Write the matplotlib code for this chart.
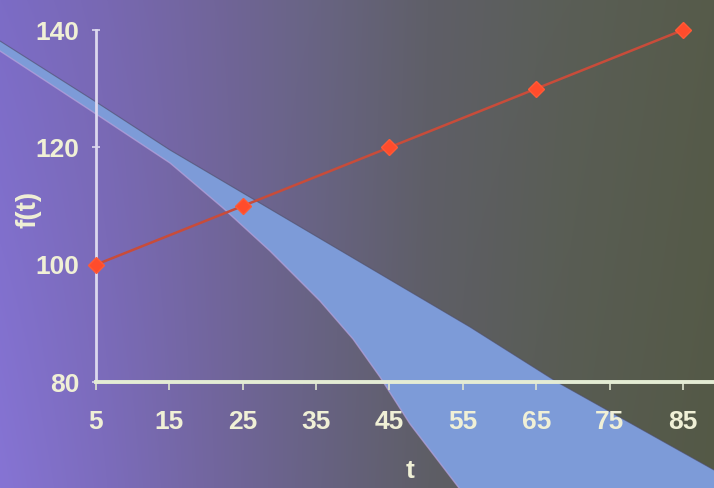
import numpy as np
import matplotlib
matplotlib.use("Agg")
from matplotlib import pyplot as plt
from matplotlib.colors import to_rgb
from matplotlib.patches import Polygon

# series
t_vals = [5, 25, 45, 65, 85]
f_vals = [100, 110, 120, 130, 140]

# axis ticks
x_ticks = [5, 15, 25, 35, 45, 55, 65, 75, 85]
y_ticks = [80, 100, 120, 140]

W, H = 714, 488
FONT = ["Liberation Sans Narrow", "Liberation Sans", "DejaVu Sans"]
TEXT_COL = "#f0f0d6"

fig = plt.figure(figsize=(W / 100, H / 100), dpi=100)

# background: slide gradient, purple on the left to olive on the right
bg = fig.add_axes([0, 0, 1, 1], zorder=0)
bg.axis("off")
bg.set_xlim(0, W)
bg.set_ylim(H, 0)

stops_x = [0.0, 0.15, 0.3, 0.45, 0.6, 0.8, 1.0]
top_cols = ["#7c6cc6", "#7868b2", "#71659a", "#686482", "#5f5f68", "#5a5e56", "#565b4a"]
bot_cols = ["#8674d4", "#7c6cbc", "#72669e", "#676282", "#5e5e66", "#585c52", "#545946"]

xs = np.linspace(0, 1, W)
def row(cols):
    rgb = np.array([to_rgb(c) for c in cols])
    return np.stack([np.interp(xs, stops_x, rgb[:, k]) for k in range(3)], axis=-1)

top_row = row(top_cols)
bot_row = row(bot_cols)
wy = np.linspace(0, 1, H)[:, None, None]
img = top_row[None, :, :] * (1 - wy) + bot_row[None, :, :] * wy
bg.imshow(img, extent=(0, W, H, 0), aspect="auto", interpolation="bilinear")

# light beam across the slide (pixel outline, top edge then bottom edge)
upper = [(0, 41), (93, 100), (170, 150), (470, 327), (557, 382), (714, 470)]
lower = [(714, 488), (459, 488), (410, 424), (380, 377), (353, 339),
         (320, 301), (270, 251), (223, 208), (170, 163), (93, 112), (0, 51)]
beam = Polygon(upper + lower, closed=True, facecolor="#7d9bd8",
               edgecolor="none")
bg.add_patch(beam)
bg.plot([p[0] for p in lower[1:]], [p[1] for p in lower[1:]],
        color="#b9a2dc", lw=1.0, alpha=0.7)
bg.plot([p[0] for p in upper], [p[1] for p in upper],
        color="#4c4c66", lw=0.8, alpha=0.6)

# chart
ax = fig.add_axes([96 / W, 1 - 382 / H, 1 - 96 / W, (382 - 30) / H], zorder=1)
ax.patch.set_alpha(0)
ax.set_xlim(5, 89.23)
ax.set_ylim(80, 140)

for side in ["top", "right"]:
    ax.spines[side].set_visible(False)
ax.spines["left"].set_color("#dcd8ee")
ax.spines["left"].set_linewidth(2.0)
ax.spines["bottom"].set_color("#e4ecd4")
ax.spines["bottom"].set_linewidth(2.8)

ax.set_xticks(x_ticks)
ax.set_yticks(y_ticks)
ax.tick_params(axis="x", direction="out", length=6, width=1.2,
               color="#dfe5cf", pad=14, labelcolor=TEXT_COL)
ax.tick_params(axis="y", direction="inout", length=6, width=1.2,
               color="#dcd8ee", pad=9, labelcolor=TEXT_COL)
for lab in ax.get_xticklabels() + ax.get_yticklabels():
    lab.set_family(FONT)
    lab.set_fontsize(19)
    lab.set_fontweight("bold")

ax.plot(t_vals, f_vals, color="#c84c3a", lw=1.8, marker="D", markersize=8,
        markerfacecolor="#ff4c2c", markeredgecolor="#ff5a36", clip_on=False,
        zorder=5)

fig.text(410 / W, 1 - 471 / H, "t", color=TEXT_COL, fontsize=19,
         fontweight="bold", family=FONT, ha="center", va="center")
fig.text(29 / W, 1 - 209 / H, "f(t)", color=TEXT_COL, fontsize=20,
         fontweight="bold", family=FONT, ha="center", va="center",
         rotation=90)

fig.savefig("out.png", dpi=100)
